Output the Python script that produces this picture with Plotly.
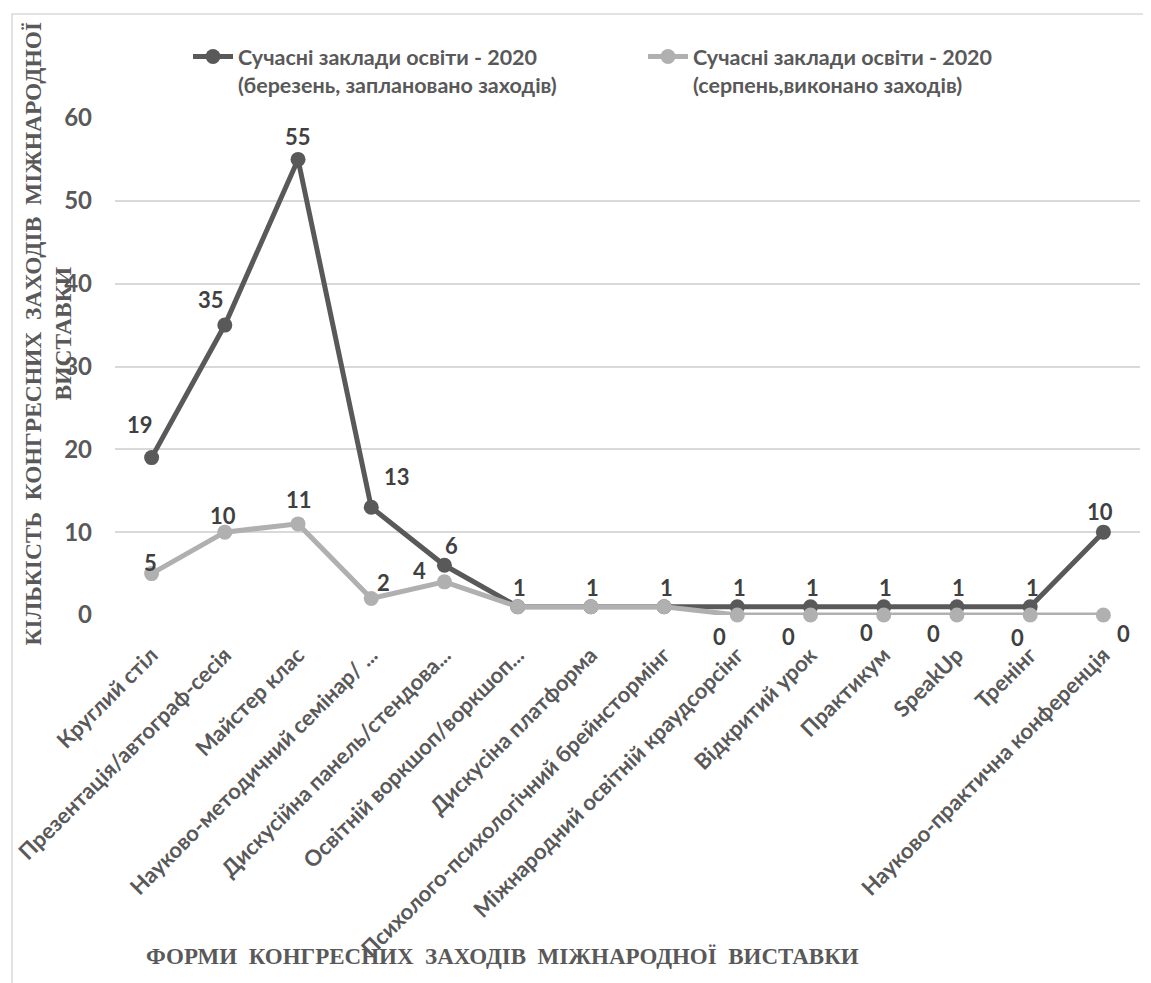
import plotly.graph_objects as go

categories = [
    "Круглий стіл",
    "Презентація/автограф-сесія",
    "Майстер клас",
    "Науково-методичний семінар/ ...",
    "Дискусійна панель/стендова...",
    "Освітній воркшоп/воркшоп...",
    "Дискусіна платформа",
    "Психолого-психологічний брейнстормінг",
    "Міжнародний освітній краудсорсінг",
    "Відкритий урок",
    "Практикум",
    "SpeakUp",
    "Тренінг",
    "Науково-практична конференція",
]
planned = [19, 35, 55, 13, 6, 1, 1, 1, 1, 1, 1, 1, 1, 10]
done = [5, 10, 11, 2, 4, 1, 1, 1, 0, 0, 0, 0, 0, 0]

name_planned = "Сучасні заклади освіти - 2020<br>(березень, заплановано заходів)"
name_done = "Сучасні заклади освіти - 2020<br>(серпень,виконано заходів)"

# label pixel offsets (dx, dy) relative to each point; None = label hidden
planned_off = [(-12, 33), (-14, 26), (0, 23), (26, 31), (7, 20), (2, 19), (2, 19), (2, 19),
               (2, 19), (2, 19), (2, 19), (2, 19), (2, 19), (-3, 21)]
done_off = [(-1, 11), (-2, 17), (1, 24), (12, 16), (-25, 11), None, None, None,
            (-18, -21), (-22, -21), (-17, -17), (-23, -18), (-13, -22), (20, -18)]

DARK = "#595959"
LIGHT = "#B0B0B0"
TXT = "#595959"
LBL = "#404040"
SANS = "Lato, 'Open Sans', sans-serif"
SERIF = "'Liberation Serif', 'Times New Roman', serif"

fig = go.Figure()
fig.add_trace(go.Scatter(
    x=categories, y=planned, name=name_planned, mode="lines+markers",
    line=dict(color=DARK, width=5), marker=dict(color=DARK, size=15),
    cliponaxis=False))
fig.add_trace(go.Scatter(
    x=categories, y=done, name=name_done, mode="lines+markers",
    line=dict(color=LIGHT, width=5), marker=dict(color=LIGHT, size=15),
    cliponaxis=False))

ann = []
for series, offs in ((planned, planned_off), (done, done_off)):
    for i, (c, v) in enumerate(zip(categories, series)):
        o = offs[i]
        if o is None:
            continue
        ann.append(dict(x=c, y=v, xref="x", yref="y", text=str(v), showarrow=False,
                        xshift=o[0], yshift=o[1],
                        font=dict(family=SANS, size=22, color=LBL, weight=700)))

nb = "\u00a0"
sep = nb * 2
ytitle = sep.join(["КІЛЬКІСТЬ", "КОНГРЕСНИХ", "ЗАХОДІВ", "МІЖНАРОДНОЇ"]) + "<br>ВИСТАВКИ"
xtitle = sep.join(["ФОРМИ", "КОНГРЕСНИХ", "ЗАХОДІВ", "МІЖНАРОДНОЇ", "ВИСТАВКИ"])

# page body has an 8px margin: figure coords = screen coords - 8
OFF = 8
W, H = 1151 - OFF, 983 - OFF
PL, PR, PT, PB = 115, 1140, 118, 615          # plot area in screen pixels
L, R, T, B = PL - OFF, W - (PR - OFF), PT - OFF, H - (PB - OFF)
pw, ph = W - L - R, H - T - B

def px(x):
    return (x - PL) / pw

def py(y):
    return (PB - y) / ph

ann.append(dict(x=px(47.5), y=py(334), xref="paper", yref="paper", text=ytitle,
                textangle=-90, showarrow=False, xanchor="center", yanchor="middle",
                font=dict(family=SERIF, size=23.5, color=TXT, weight=700)))
ann.append(dict(x=px(502), y=py(957), xref="paper", yref="paper", text=xtitle,
                showarrow=False, xanchor="center", yanchor="middle",
                font=dict(family=SERIF, size=23, color=TXT, weight=700)))

fig.update_layout(
    width=W, height=H,
    margin=dict(l=L, r=R, t=T, b=B, autoexpand=False),
    paper_bgcolor="white", plot_bgcolor="white",
    font=dict(family=SANS, color=TXT),
    showlegend=True,
    legend=dict(orientation="h", xref="paper", yref="paper",
                x=px(188), y=py(36), xanchor="left", yanchor="top",
                valign="top", entrywidth=400, entrywidthmode="pixels",
                font=dict(family=SANS, size=21.5, color=TXT, weight=700),
                itemwidth=40, bgcolor="rgba(0,0,0,0)"),
    xaxis=dict(type="category", range=[-0.5, len(categories) - 0.5], tickangle=-45,
               showgrid=False, zeroline=False, showline=False, ticks="",
               automargin=False, ticklabelstandoff=22,
               tickfont=dict(family=SANS, size=22, color=TXT, weight=700)),
    yaxis=dict(range=[0, 60], dtick=10, showgrid=True, gridcolor="#D9D9D9", gridwidth=1.5,
               zeroline=False, showline=False, ticks="", ticklabelstandoff=22,
               automargin=False,
               tickfont=dict(family=SANS, size=24, color=TXT, weight=700)),
    annotations=ann,
    shapes=[dict(type="rect", xref="paper", yref="paper",
                 x0=px(12), x1=px(1200), y0=py(1020), y1=py(14),
                 line=dict(color="#D9D9D9", width=1.5), fillcolor="rgba(0,0,0,0)",
                 layer="below")],
)

fig.write_html("out.html")
